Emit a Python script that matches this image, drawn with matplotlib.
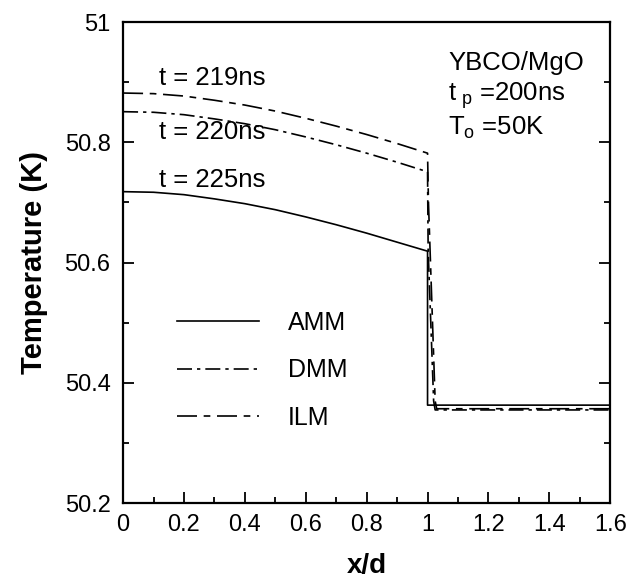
import matplotlib
matplotlib.use("Agg")
import matplotlib.pyplot as plt
from matplotlib.ticker import MultipleLocator

plt.rcParams["font.family"] = ["Liberation Sans", "DejaVu Sans"]

# x/d positions inside the film (0..1) and in the substrate
x_film = [0.0, 0.1, 0.2, 0.3, 0.4, 0.5, 0.6, 0.7, 0.8, 0.9, 1.0]

# t = 219 ns, ILM
ilm_x = x_film + [1.003, 1.025, 1.03, 1.6]
ilm_T = [50.882, 50.881, 50.877, 50.870, 50.862, 50.852, 50.840, 50.827,
         50.813, 50.798, 50.782, 50.70, 50.37, 50.357, 50.357]

# t = 220 ns, DMM
dmm_x = x_film + [1.002, 1.02, 1.025, 1.6]
dmm_T = [50.851, 50.850, 50.846, 50.839, 50.831, 50.821, 50.809, 50.796,
         50.782, 50.767, 50.751, 50.62, 50.37, 50.355, 50.355]

# t = 225 ns, AMM
amm_x = x_film + [1.0, 1.6]
amm_T = [50.718, 50.717, 50.713, 50.706, 50.698, 50.688, 50.676, 50.663,
         50.649, 50.634, 50.619, 50.363, 50.363]

time_labels = ["t = 219ns", "t = 220ns", "t = 225ns"]
model_labels = ["AMM", "DMM", "ILM"]

fig = plt.figure(figsize=(6.41, 5.81), dpi=100)
ax = fig.add_axes([0.192, 0.134, 0.760, 0.828])

lw = 1.2
ax.plot(amm_x, amm_T, color="black", lw=lw, linestyle="-", label=model_labels[0])
ax.plot(dmm_x, dmm_T, color="black", lw=lw, linestyle=(0, (9, 3, 2, 3)),
        label=model_labels[1])
ax.plot(ilm_x, ilm_T, color="black", lw=lw, linestyle=(0, (12, 4, 4, 4)),
        label=model_labels[2])

ax.set_xlim(0, 1.6)
ax.set_ylim(50.2, 51.0)
ax.xaxis.set_major_locator(MultipleLocator(0.2))
ax.xaxis.set_minor_locator(MultipleLocator(0.1))
ax.yaxis.set_major_locator(MultipleLocator(0.2))
ax.yaxis.set_minor_locator(MultipleLocator(0.1))
ax.xaxis.set_major_formatter(plt.FuncFormatter(lambda v, p: f"{v:g}"))
ax.yaxis.set_major_formatter(plt.FuncFormatter(lambda v, p: f"{v:g}"))

ax.tick_params(which="both", direction="in", right=True, top=False,
               width=1.3, labelsize=17)
ax.tick_params(which="major", length=8)
ax.tick_params(which="minor", length=4)
ax.tick_params(axis="x", pad=8)
ax.tick_params(axis="y", pad=9)
for sp in ax.spines.values():
    sp.set_linewidth(1.6)

ax.set_xlabel("x/d", fontsize=20, fontweight="bold", labelpad=12)
ax.set_ylabel("Temperature (K)", fontsize=21, fontweight="bold", labelpad=12)

ax.text(0.074, 0.884, time_labels[0], transform=ax.transAxes, fontsize=18.5,
        va="center", ha="left")
ax.text(0.074, 0.772, time_labels[1], transform=ax.transAxes, fontsize=18.5,
        va="center", ha="left")
ax.text(0.074, 0.672, time_labels[2], transform=ax.transAxes, fontsize=18.5,
        va="center", ha="left")

ax.text(0.668, 0.914, "YBCO/MgO", transform=ax.transAxes, fontsize=18.5,
        va="center", ha="left")
ax.text(0.668, 0.848, r"t$_{\ \mathregular{p}}$ =200ns", transform=ax.transAxes,
        fontsize=18.5, va="center", ha="left")
ax.text(0.668, 0.781, r"T$_{\mathregular{o}}$ =50K", transform=ax.transAxes,
        fontsize=18.5, va="center", ha="left")

ax.legend(loc="upper left", bbox_to_anchor=(0.11, 0.40), frameon=False,
          fontsize=18, handlelength=3.3, handletextpad=1.15, labelspacing=0.95,
          borderpad=0, borderaxespad=0)

fig.savefig("out.png", dpi=100)
